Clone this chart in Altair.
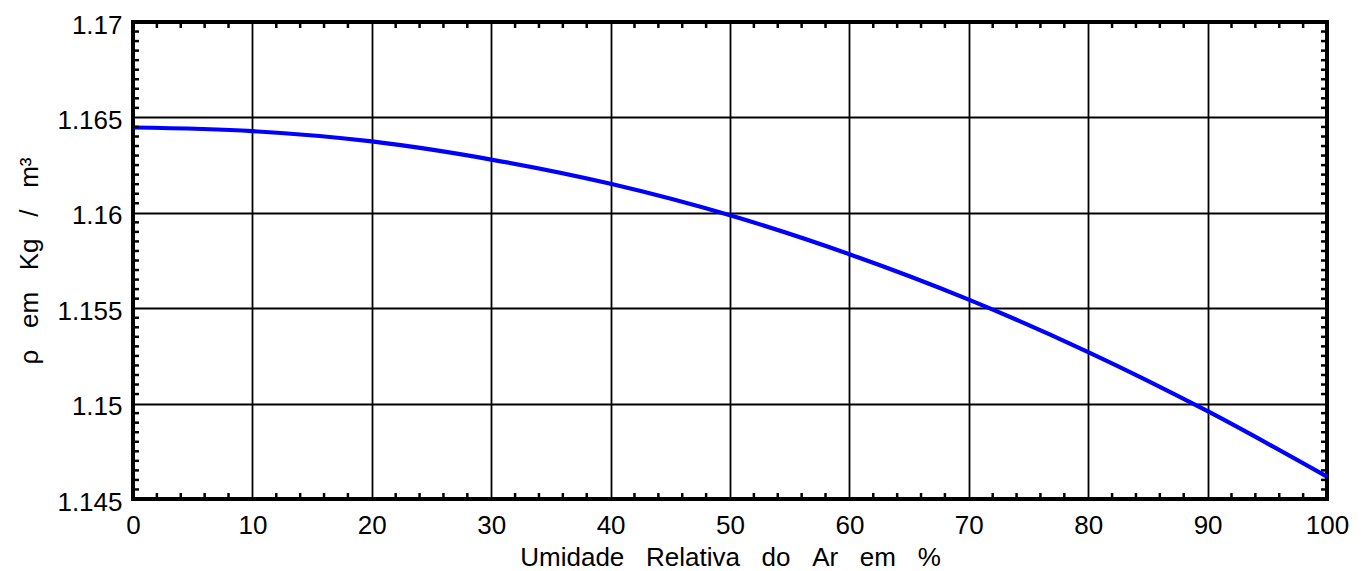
import altair as alt
import pandas as pd

# Curve values
humidity = [0, 10, 20, 30, 40, 50, 60, 70, 80, 90, 100]
density = [1.16447, 1.16428, 1.16374, 1.16279, 1.16152, 1.15987,
           1.15783, 1.15545, 1.15270, 1.14960, 1.14617]

x_major = [0, 10, 20, 30, 40, 50, 60, 70, 80, 90, 100]
y_major = [1.145, 1.15, 1.155, 1.16, 1.165, 1.17]
x_minor = [v for v in range(0, 101, 2) if v % 10 != 0]
y_minor = [round(1.145 + 0.0005 * i, 4) for i in range(1, 50) if i % 10 != 0]

W, H = 1194, 477
SP = "\u00a0\u00a0\u00a0"
FS = 26

line_df = pd.DataFrame({"x": humidity, "y": density})
xm_df = pd.DataFrame({"x": x_minor})
ym_df = pd.DataFrame({"y": y_minor})

xscale = alt.Scale(domain=[0, 100], nice=False, zero=False)
yscale = alt.Scale(domain=[1.145, 1.17], nice=False, zero=False)

xaxis = alt.Axis(
    values=x_major, format="d", grid=True, ticks=False, domain=False,
    labelFontSize=FS, labelPadding=13, labelColor="black",
    labelFlush=False, labelOverlap=False,
    title=f"Umidade{SP}Relativa{SP}do{SP}Ar{SP}em{SP}%",
    titleFontSize=FS, titleFontWeight="normal", titleColor="black",
    titleBaseline="alphabetic", titleY=66, titleX=W / 2, titleAlign="center",
)
yaxis = alt.Axis(
    values=y_major, format=".4~f", grid=True, ticks=False, domain=False,
    labelFontSize=FS, labelPadding=11, labelColor="black", labelOffset=3,
    labelFlush=False, labelOverlap=False,
    title=f"ρ{SP}em{SP}Kg{SP}/{SP}m³",
    titleFontSize=FS, titleFontWeight="normal", titleColor="black",
    titleAngle=270, titleBaseline="alphabetic", titleX=-96, titleY=H / 2,
    titleAlign="center",
)

line = alt.Chart(line_df).mark_line(
    color="#0000ff", strokeWidth=4.2, interpolate="monotone"
).encode(
    x=alt.X("x:Q", scale=xscale, axis=xaxis),
    y=alt.Y("y:Q", scale=yscale, axis=yaxis),
)

xt_bottom = alt.Chart(xm_df).mark_rule(color="black", strokeWidth=2.5).encode(
    x=alt.X("x:Q", scale=xscale, axis=xaxis),
    y=alt.value(H), y2=alt.value(H - 6),
)
xt_top = alt.Chart(xm_df).mark_rule(color="black", strokeWidth=2.5).encode(
    x=alt.X("x:Q", scale=xscale, axis=xaxis),
    y=alt.value(0), y2=alt.value(6),
)
yt_left = alt.Chart(ym_df).mark_rule(color="black", strokeWidth=2.5).encode(
    y=alt.Y("y:Q", scale=yscale, axis=yaxis),
    x=alt.value(0), x2=alt.value(6),
)
yt_right = alt.Chart(ym_df).mark_rule(color="black", strokeWidth=2.5).encode(
    y=alt.Y("y:Q", scale=yscale, axis=yaxis),
    x=alt.value(W), x2=alt.value(W - 6),
)

chart = alt.layer(line, xt_bottom, xt_top, yt_left, yt_right).properties(
    width=W, height=H,
    autosize=alt.AutoSizeParams(type="none"),
    padding={"left": 133, "top": 22, "right": 40, "bottom": 72},
    background="white",
).configure(
    font="Liberation Sans",
).configure_axis(
    gridColor="black", gridWidth=1.8, gridOpacity=1,
).configure_view(
    stroke="black", strokeWidth=4,
)

chart.save("out.html", embed_options={"renderer": "svg", "actions": False})
